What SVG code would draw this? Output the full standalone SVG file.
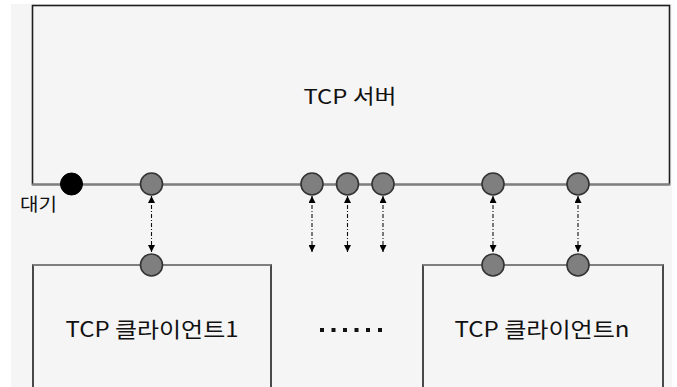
<svg xmlns="http://www.w3.org/2000/svg" width="677" height="387" viewBox="0 0 677 387">
  <style>
    .box { fill: #f5f5f5; stroke: #1e1e1e; stroke-width: 1.6; }
    .rail { stroke: #7f7f7f; stroke-width: 2.2; fill: none; }
    .port { fill: #7f7f7f; stroke: #333333; stroke-width: 1.6; }
    .wait { fill: #000000; stroke: #000000; stroke-width: 1; }
    .link { stroke: #111111; stroke-width: 1.1; stroke-dasharray: 4 2 1 2; fill: none; }
    .label { font-family: "Noto Sans CJK KR", "Noto Sans", sans-serif; fill: #111111; }
  </style>
  <defs>
    <marker id="head" viewBox="0 0 10 10" refX="10" refY="5" markerWidth="7" markerHeight="7" markerUnits="userSpaceOnUse" orient="auto-start-reverse">
      <path d="M0,0 L10,5 L0,10 Z" fill="#000000"/>
    </marker>
  </defs>

  <!-- canvas -->
  <rect x="0" y="0" width="677" height="387" fill="#ffffff"/>
  <rect x="11" y="4" width="661" height="383" fill="#f5f5f5"/>

  <!-- server -->
  <g id="server">
    <rect class="box" x="32.5" y="5.5" width="637" height="179"/>
    <line class="rail" x1="32" y1="184.5" x2="670" y2="184.5"/>
    <text class="label" x="350" y="104" font-size="20" text-anchor="middle" textLength="93" lengthAdjust="spacingAndGlyphs">TCP 서버</text>
  </g>

  <!-- client 1 -->
  <g id="client1">
    <rect class="box" x="33" y="265" width="238" height="130"/>
    <line class="rail" x1="33" y1="265" x2="271" y2="265"/>
    <text class="label" x="152" y="337" font-size="21" text-anchor="middle" textLength="173" lengthAdjust="spacingAndGlyphs">TCP 클라이언트1</text>
  </g>

  <!-- client n -->
  <g id="clientn">
    <rect class="box" x="423" y="265" width="240" height="130"/>
    <line class="rail" x1="423" y1="265" x2="663" y2="265"/>
    <text class="label" x="542" y="337" font-size="21" text-anchor="middle" textLength="175" lengthAdjust="spacingAndGlyphs">TCP 클라이언트n</text>
  </g>

  <!-- ellipsis between clients -->
  <g id="more">
    <rect x="320" y="328" width="4" height="4" fill="#111"/>
    <rect x="331.5" y="328" width="4" height="4" fill="#111"/>
    <rect x="343" y="328" width="4" height="4" fill="#111"/>
    <rect x="354.5" y="328" width="4" height="4" fill="#111"/>
    <rect x="366" y="328" width="4" height="4" fill="#111"/>
    <rect x="378" y="328" width="4" height="4" fill="#111"/>
  </g>

  <!-- listening socket -->
  <g id="listen">
    <circle class="wait" cx="71.5" cy="184" r="11"/>
    <text class="label" x="20" y="211" font-size="18" textLength="37" lengthAdjust="spacingAndGlyphs">대기</text>
  </g>

  <!-- connection sockets -->
  <g id="ports">
    <circle class="port" cx="151.5" cy="184" r="11"/>
    <circle class="port" cx="312" cy="184" r="11"/>
    <circle class="port" cx="347.5" cy="184" r="11"/>
    <circle class="port" cx="383" cy="184" r="11"/>
    <circle class="port" cx="493" cy="184" r="11"/>
    <circle class="port" cx="578" cy="184" r="11"/>
    <circle class="port" cx="151.5" cy="265" r="11"/>
    <circle class="port" cx="493" cy="265" r="11"/>
    <circle class="port" cx="578" cy="265" r="11"/>
  </g>

  <!-- connectors -->
  <g id="connectors">
    <line class="link" x1="151.5" y1="196" x2="151.5" y2="252" marker-start="url(#head)" marker-end="url(#head)"/>
    <line class="link" x1="312" y1="196" x2="312" y2="252" marker-start="url(#head)" marker-end="url(#head)"/>
    <line class="link" x1="347.5" y1="196" x2="347.5" y2="252" marker-start="url(#head)" marker-end="url(#head)"/>
    <line class="link" x1="383" y1="196" x2="383" y2="252" marker-start="url(#head)" marker-end="url(#head)"/>
    <line class="link" x1="493" y1="196" x2="493" y2="252" marker-start="url(#head)" marker-end="url(#head)"/>
    <line class="link" x1="578" y1="196" x2="578" y2="252" marker-start="url(#head)" marker-end="url(#head)"/>
  </g>
</svg>
